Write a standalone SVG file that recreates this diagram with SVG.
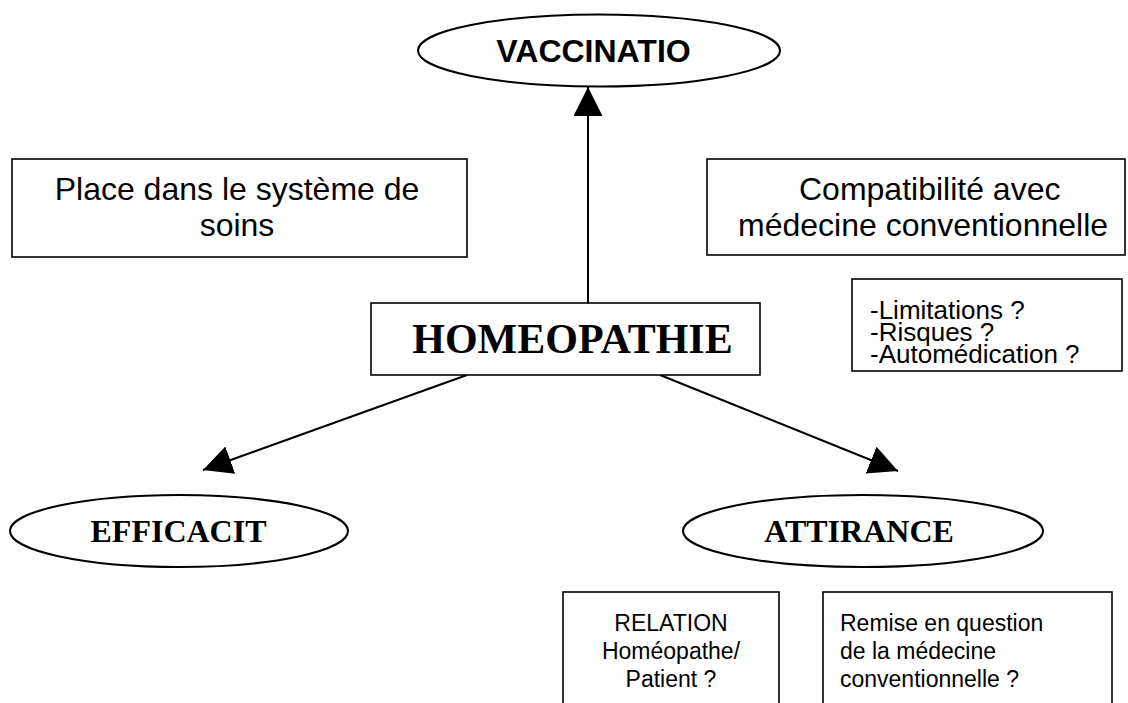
<svg xmlns="http://www.w3.org/2000/svg" width="1128" height="703" viewBox="0 0 1128 703">
<defs>
<marker id="ah" markerUnits="userSpaceOnUse" markerWidth="30" markerHeight="30" refX="29" refY="14.5" orient="auto">
<path d="M0,0 L29,14.5 L0,29 z" fill="#000"/>
</marker>
<style>
.box{fill:#fff;stroke:#000;stroke-width:1.6}
.ell{fill:#fff;stroke:#000;stroke-width:2}
.edge{stroke:#000;stroke-width:2;fill:none;marker-end:url(#ah)}
.sans{font-family:"Liberation Sans",Arial,sans-serif;fill:#000}
.serifb{font-family:"Liberation Serif","Times New Roman",serif;font-weight:bold;fill:#000}
</style>
</defs>
<rect width="1128" height="703" fill="#fff"/>
<g id="connectors">
<line class="edge" x1="588" y1="303" x2="588" y2="87"/>
<line class="edge" x1="467" y1="375" x2="203" y2="470"/>
<line class="edge" x1="660" y1="375" x2="898" y2="471"/>
</g>
<g id="vaccinatio">
<ellipse class="ell" cx="599" cy="50.5" rx="181" ry="36"/>
<text class="sans" x="593.5" y="62" font-size="32" font-weight="bold" text-anchor="middle">VACCINATIO</text>
</g>
<g id="place">
<rect class="box" x="12" y="159" width="455" height="98"/>
<text class="sans" font-size="32" text-anchor="middle"><tspan x="237" y="200">Place dans le système de</tspan><tspan x="237" y="236">soins</tspan></text>
</g>
<g id="compatibilite">
<rect class="box" x="707" y="159" width="418" height="96"/>
<text class="sans" font-size="32"><tspan x="799" y="200">Compatibilité avec</tspan><tspan x="738" y="236">médecine conventionnelle</tspan></text>
</g>
<g id="limitations">
<rect class="box" x="852" y="279" width="270" height="92"/>
<text class="sans" font-size="26"><tspan x="870" y="319">-Limitations ?</tspan><tspan x="870" y="341">-Risques ?</tspan><tspan x="870" y="363">-Automédication ?</tspan></text>
</g>
<g id="homeopathie">
<rect class="box" x="371" y="303" width="389" height="72"/>
<text class="serifb" x="572.5" y="353" font-size="42" text-anchor="middle">HOMEOPATHIE</text>
</g>
<g id="efficacit">
<ellipse class="ell" cx="179" cy="531" rx="169" ry="36"/>
<text class="serifb" x="178.5" y="542" font-size="32" text-anchor="middle">EFFICACIT</text>
</g>
<g id="attirance">
<ellipse class="ell" cx="863" cy="531" rx="180" ry="36"/>
<text class="serifb" x="859" y="542" font-size="32" text-anchor="middle">ATTIRANCE</text>
</g>
<g id="relation">
<rect class="box" x="563" y="592" width="216" height="130"/>
<text class="sans" font-size="23" text-anchor="middle"><tspan x="671" y="631">RELATION</tspan><tspan x="671" y="659">Homéopathe/</tspan><tspan x="671" y="687">Patient ?</tspan></text>
</g>
<g id="remise">
<rect class="box" x="823" y="592" width="289" height="130"/>
<text class="sans" font-size="23"><tspan x="840" y="631">Remise en question</tspan><tspan x="840" y="659">de la médecine</tspan><tspan x="840" y="687">conventionnelle ?</tspan></text>
</g>
</svg>
